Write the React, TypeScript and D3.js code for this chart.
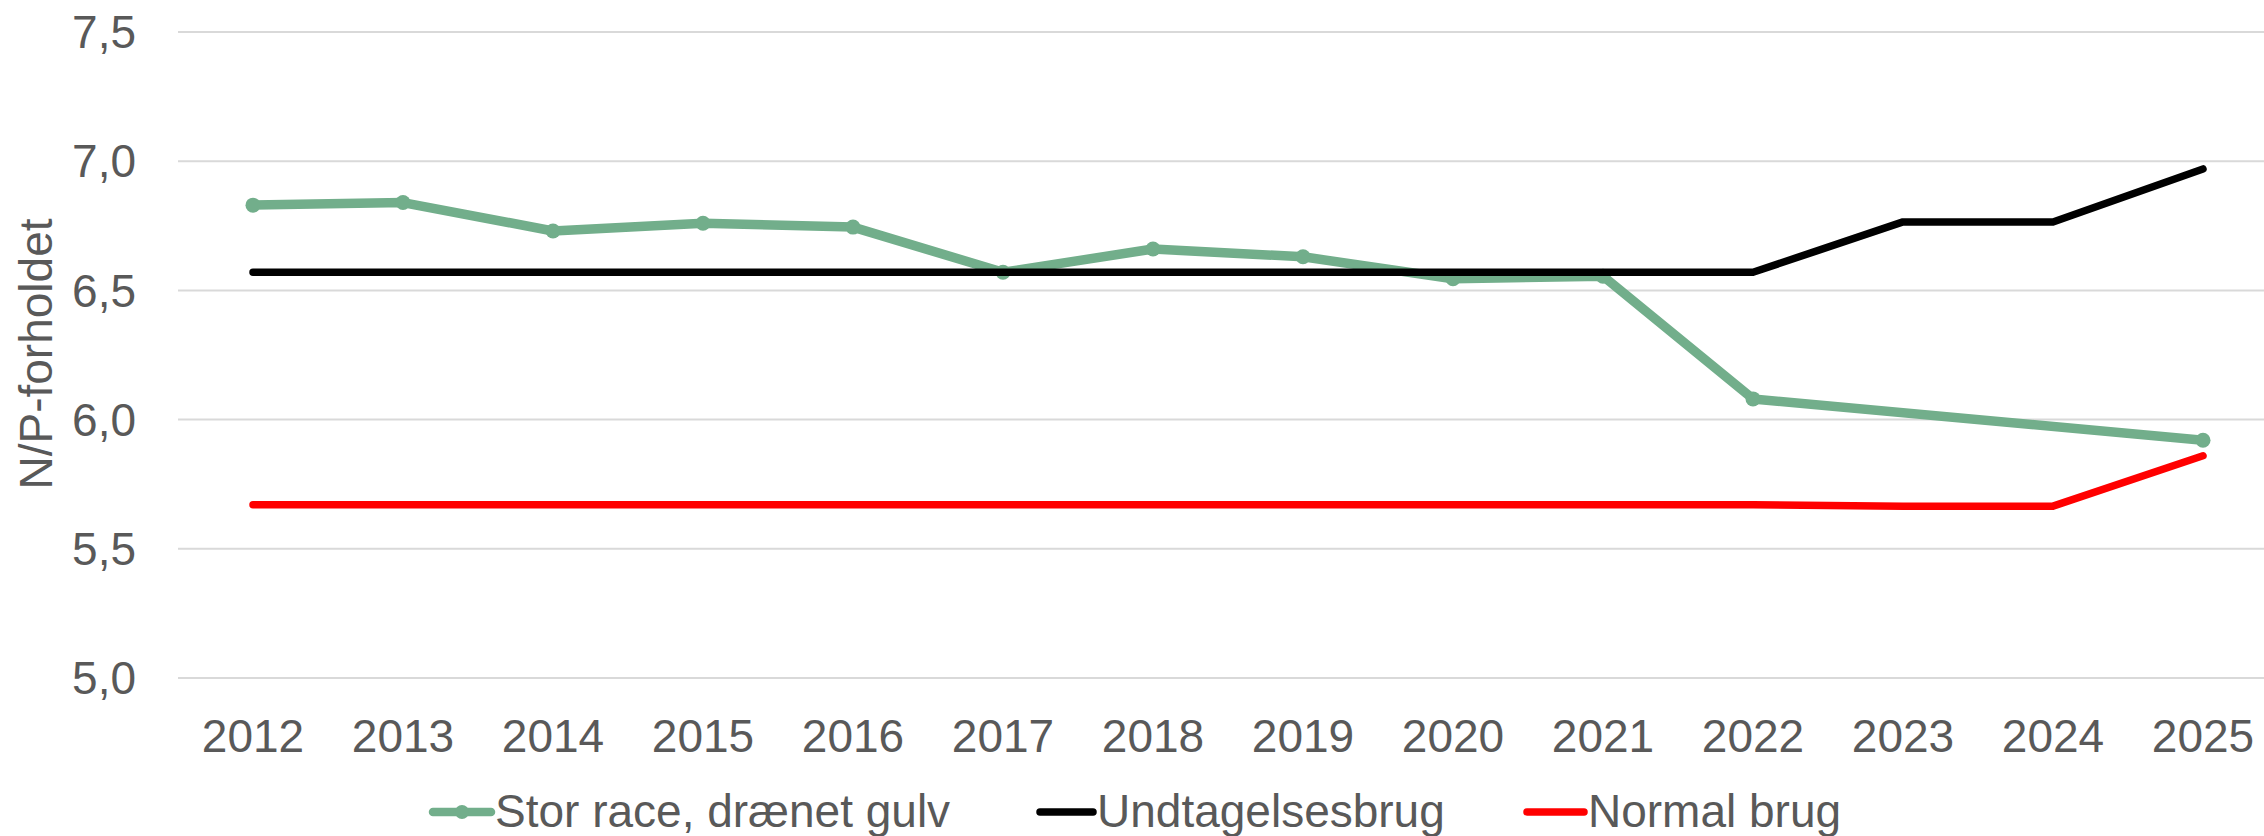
import * as d3 from "d3";

const years = ["2012", "2013", "2014", "2015", "2016", "2017", "2018", "2019", "2020", "2021", "2022", "2023", "2024", "2025"];
// null = no value that year (line is carried straight across)
const storRace = [6.83, 6.84, 6.73, 6.76, 6.745, 6.57, 6.66, 6.63, 6.545, 6.555, 6.08, null, null, 5.92];
const undtagelsesbrug = [6.57, 6.57, 6.57, 6.57, 6.57, 6.57, 6.57, 6.57, 6.57, 6.57, 6.57, 6.765, 6.765, 6.97];
const normalBrug = [5.67, 5.67, 5.67, 5.67, 5.67, 5.67, 5.67, 5.67, 5.67, 5.67, 5.67, 5.665, 5.665, 5.86];
const yTicks = [5.0, 5.5, 6.0, 6.5, 7.0, 7.5];
const legendLabels = ["Stor race, drænet gulv", "Undtagelsesbrug", "Normal brug"];

const width = 2264;
const height = 836;
const font = "'Liberation Sans', Arial, sans-serif";
const textColor = "#595959";
const green = "#72ae8b";

type Pt = { year: string; value: number | null };

export default function App() {
  const x = d3.scaleBand<string>().domain(years).range([178, 2278]);
  const y = d3.scaleLinear().domain([5, 7.5]).range([678, 32]);
  const cx = (yr: string) => (x(yr) ?? 0) + x.bandwidth() / 2;

  const toPts = (vals: (number | null)[]): Pt[] => years.map((year, i) => ({ year, value: vals[i] }));
  const line = d3
    .line<Pt>()
    .x((p) => cx(p.year))
    .y((p) => y(p.value as number));
  const path = (vals: (number | null)[]) => line(toPts(vals).filter((p) => p.value !== null)) ?? "";

  const fmt = (v: number) => v.toFixed(1).replace(".", ",");

  const legend = [
    { label: legendLabels[0], color: green, x0: 433, x1: 491, marker: true, w: 8.5 },
    { label: legendLabels[1], color: "#000000", x0: 1040, x1: 1093, marker: false, w: 7.5 },
    { label: legendLabels[2], color: "#ff0000", x0: 1527, x1: 1584, marker: false, w: 7.5 },
  ];

  return (
    <svg
      width={width}
      height={height}
      viewBox={`0 0 ${width} ${height}`}
      style={{ position: "absolute", left: 0, top: 0, display: "block", background: "#fff" }}
      fontFamily={font}
    >
      <rect width={width} height={height} fill="#fff" />
      <g>
        {yTicks.map((t) => (
          <line key={t} x1={178} x2={2278} y1={y(t)} y2={y(t)} stroke="#d9d9d9" strokeWidth={2} />
        ))}
      </g>
      <g fill={textColor} fontSize={46}>
        {yTicks.map((t) => (
          <text key={t} x={136} y={y(t)} dy="0.35em" textAnchor="end">
            {fmt(t)}
          </text>
        ))}
        {years.map((yr) => (
          <text key={yr} x={cx(yr)} y={752} textAnchor="middle">
            {yr}
          </text>
        ))}
        <text transform="translate(52,354) rotate(-90)" textAnchor="middle">
          N/P-forholdet
        </text>
      </g>

      <path d={path(storRace)} fill="none" stroke={green} strokeWidth={9.5} strokeLinejoin="round" strokeLinecap="round" />
      {toPts(storRace)
        .filter((p) => p.value !== null)
        .map((p) => (
          <circle key={p.year} cx={cx(p.year)} cy={y(p.value as number)} r={7.5} fill={green} />
        ))}
      <path d={path(undtagelsesbrug)} fill="none" stroke="#000" strokeWidth={7.5} strokeLinejoin="round" strokeLinecap="round" />
      <path d={path(normalBrug)} fill="none" stroke="#ff0000" strokeWidth={7.5} strokeLinejoin="round" strokeLinecap="round" />

      <g fontSize={46} fill={textColor}>
        {legend.map((l) => (
          <g key={l.label}>
            <line x1={l.x0} x2={l.x1} y1={812} y2={812} stroke={l.color} strokeWidth={l.w} strokeLinecap="round" />
            {l.marker && <circle cx={(l.x0 + l.x1) / 2} cy={812} r={7} fill={l.color} />}
            <text x={l.x1 + 4} y={827}>
              {l.label}
            </text>
          </g>
        ))}
      </g>
    </svg>
  );
}
